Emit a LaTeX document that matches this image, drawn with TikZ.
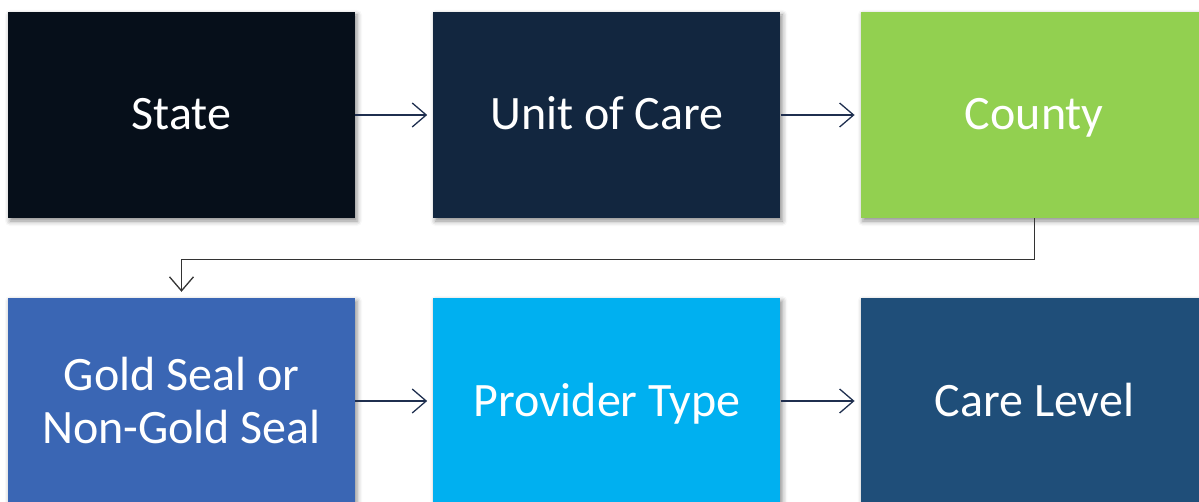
\documentclass[tikz,border=0pt]{standalone}
\usepackage{fontspec}
\setmainfont{Carlito}
\usetikzlibrary{positioning,arrows.meta,shadows.blur}
\definecolor{stateblk}{HTML}{060F1A}
\definecolor{unitnavy}{HTML}{12263F}
\definecolor{countygrn}{HTML}{92D050}
\definecolor{sealblue}{HTML}{3A66B4}
\definecolor{provcyan}{HTML}{00B0F0}
\definecolor{carenavy}{HTML}{1F4E79}
\definecolor{arrownavy}{HTML}{1F2F4F}
\tikzset{
  level/.style={rectangle, minimum width=347pt, minimum height=206pt, inner sep=0pt,
    text=white, align=center, font=\fontsize{48}{53}\selectfont,
    blur shadow={shadow xshift=2pt, shadow yshift=-3pt, shadow blur radius=5pt, shadow opacity=45}},
  oneline/.style={text height=30pt, text depth=0pt},
  link/.style={-{Straight Barb[length=14pt,width=24pt,line width=1.3pt]}, line width=1.3pt, shorten >=6pt}
}
\begin{document}
\begin{tikzpicture}[x=1pt, y=-1pt]
    \useasboundingbox (0,0) rectangle (1199,502);
    \clip (0,0) rectangle (1199,502);
    % first row
    \node[level, oneline, fill=stateblk] (state) at (181.5,115) {State};
    \node[level, oneline, fill=unitnavy, right=78pt of state] (unit) {Unit of Care};
    \node[level, oneline, fill=countygrn, right=80pt of unit] (county) {County};
    % second row
    \node[level, fill=sealblue] (seal) at (181.5,401) {Gold Seal or\\Non-Gold Seal};
    \node[level, oneline, fill=provcyan, right=78pt of seal] (prov) {Provider Type};
    \node[level, oneline, fill=carenavy, right=80pt of prov] (care) {Care Level};
    % connectors
    \draw[link, arrownavy] (state) -- (unit);
    \draw[link, arrownavy] (unit) -- (county);
    \draw[link, black!80] (county.south) -- ++(0,41) -| (seal.north);
    \draw[link, arrownavy] (seal) -- (prov);
    \draw[link, arrownavy] (prov) -- (care);
\end{tikzpicture}
\end{document}
